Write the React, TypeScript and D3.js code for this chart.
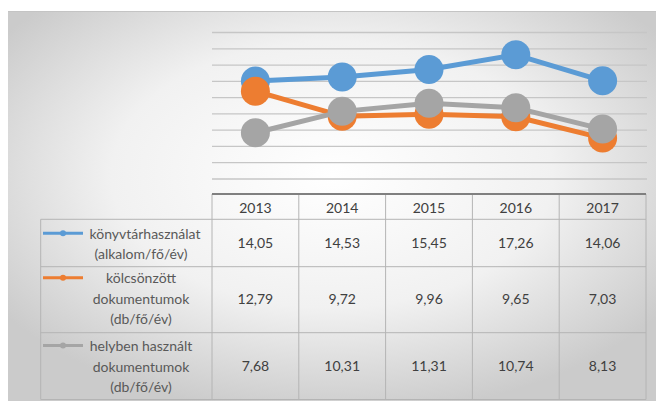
import React from "react";
import * as d3 from "d3";

const years = ["2013", "2014", "2015", "2016", "2017"];
const konyvtarhasznalat = [14.05, 14.53, 15.45, 17.26, 14.06];
const kolcsonzott = [12.79, 9.72, 9.96, 9.65, 7.03];
const helyben = [7.68, 10.31, 11.31, 10.74, 8.13];
const seriesLabels = [
  ["könyvtárhasználat", "(alkalom/fő/év)"],
  ["kölcsönzött", "dokumentumok", "(db/fő/év)"],
  ["helyben használt", "dokumentumok", "(db/fő/év)"],
];
const seriesColors = ["#5b9bd5", "#ed7d31", "#a5a5a5"];
const gridValues = [2, 4, 6, 8, 10, 12, 14, 16, 18, 20];

const W = 656;
const H = 401;
const FONT = "Lato, 'Open Sans', sans-serif";

export default function App() {
  const series = [konyvtarhasznalat, kolcsonzott, helyben];
  const x = d3.scaleBand<string>().domain(years).range([212, 646]);
  const cx = (yr: string) => (x(yr) as number) + x.bandwidth() / 2;
  const y = d3.scaleLinear().domain([2, 20]).range([179, 32.5]);
  const line = d3
    .line<number>()
    .x((_, i) => cx(years[i]))
    .y((v) => y(v));
  const locale = d3.formatLocale({ decimal: ",", thousands: " ", grouping: [3], currency: ["", ""] });
  const fmt = locale.format(".2f");

  const headerTop = 194;
  const headerBottom = 219.3;
  const rowBounds = [219.3, 266.7, 332.7, 399.5];
  const tableLeft = 40.7;
  const plotLeft = 212;
  const plotRight = 646;
  const lh = 20.5;

  return (
    <svg
      width={W}
      height={H}
      style={{ position: "absolute", left: 0, top: 0 }}
      fontFamily={FONT}
    >
      <defs>
        <radialGradient id="bg" cx="0.5" cy="0.42" r="0.62" fx="0.5" fy="0.42">
          <stop offset="0" stopColor="#ffffff" />
          <stop offset="0.55" stopColor="#f1f1f1" />
          <stop offset="1" stopColor="#cbcbcb" />
        </radialGradient>
      </defs>
      <rect x={0} y={0} width={W} height={H} fill="#ffffff" />
      <rect x={8} y={11} width={W - 8} height={H - 11} fill="url(#bg)" />
      <line x1={8} x2={W} y1={11.5} y2={11.5} stroke="#c4c4c4" strokeWidth={1.2} />

      {/* gridlines */}
      {gridValues.map((g) => (
        <line
          key={g}
          x1={plotLeft}
          x2={plotRight + 1}
          y1={y(g)}
          y2={y(g)}
          stroke="#c6c6c6"
          strokeWidth={1.3}
        />
      ))}

      {/* series */}
      {series.map((s, si) => (
        <g key={si}>
          <path d={line(s) as string} fill="none" stroke={seriesColors[si]} strokeWidth={5} strokeLinejoin="round" />
          {s.map((v, i) => (
            <circle key={i} cx={cx(years[i])} cy={y(v)} r={14.5} fill={seriesColors[si]} />
          ))}
        </g>
      ))}

      {/* table lines */}
      <g stroke="#b4b4b4" strokeWidth={1}>
        {/* horizontal row lines */}
        <line x1={plotLeft} x2={plotRight} y1={headerBottom} y2={headerBottom} />
        <line x1={tableLeft} x2={plotLeft} y1={rowBounds[0]} y2={rowBounds[0]} />
        {rowBounds.slice(1).map((rb, i) => (
          <line key={i} x1={tableLeft} x2={plotRight} y1={rb} y2={rb} />
        ))}
        {/* verticals */}
        <line x1={tableLeft} x2={tableLeft} y1={rowBounds[0]} y2={rowBounds[3]} />
        {years.map((yr) => (
          <line key={yr} x1={x(yr) as number} x2={x(yr) as number} y1={headerTop} y2={rowBounds[3]} />
        ))}
        <line x1={plotRight} x2={plotRight} y1={headerTop} y2={rowBounds[3]} />
      </g>
      <line x1={plotLeft} x2={plotRight} y1={headerTop} y2={headerTop} stroke="#808080" strokeWidth={2} />

      {/* header */}
      {years.map((yr) => (
        <text
          key={yr}
          x={cx(yr)}
          y={(headerTop + headerBottom) / 2 + 0.5}
          textAnchor="middle"
          dominantBaseline="central"
          fontSize={14}
          fill="#404040"
        >
          {yr}
        </text>
      ))}

      {/* rows */}
      {series.map((s, si) => {
        const top = rowBounds[si];
        const bottom = rowBounds[si + 1];
        const mid = (top + bottom) / 2 - (si === 1 ? 1.5 : si === 0 ? -0.5 : 0);
        const lines = seriesLabels[si];
        const firstY = mid - ((lines.length - 1) * lh) / 2;
        return (
          <g key={si}>
            <line x1={43} x2={83} y1={firstY} y2={firstY} stroke={seriesColors[si]} strokeWidth={3} />
            <circle cx={63} cy={firstY} r={3} fill={seriesColors[si]} />
            {lines.map((t, li) => (
              <text
                key={li}
                x={li === 0 && si === 0 ? 145 : 141}
                y={firstY + li * lh}
                textAnchor="middle"
                dominantBaseline="central"
                fontSize={14}
                fill="#595959"
              >
                {t}
              </text>
            ))}
            {s.map((v, i) => (
              <text
                key={i}
                x={cx(years[i])}
                y={(top + bottom) / 2 - 1}
                textAnchor="middle"
                dominantBaseline="central"
                fontSize={14}
                fill="#404040"
              >
                {fmt(v)}
              </text>
            ))}
          </g>
        );
      })}
    </svg>
  );
}
